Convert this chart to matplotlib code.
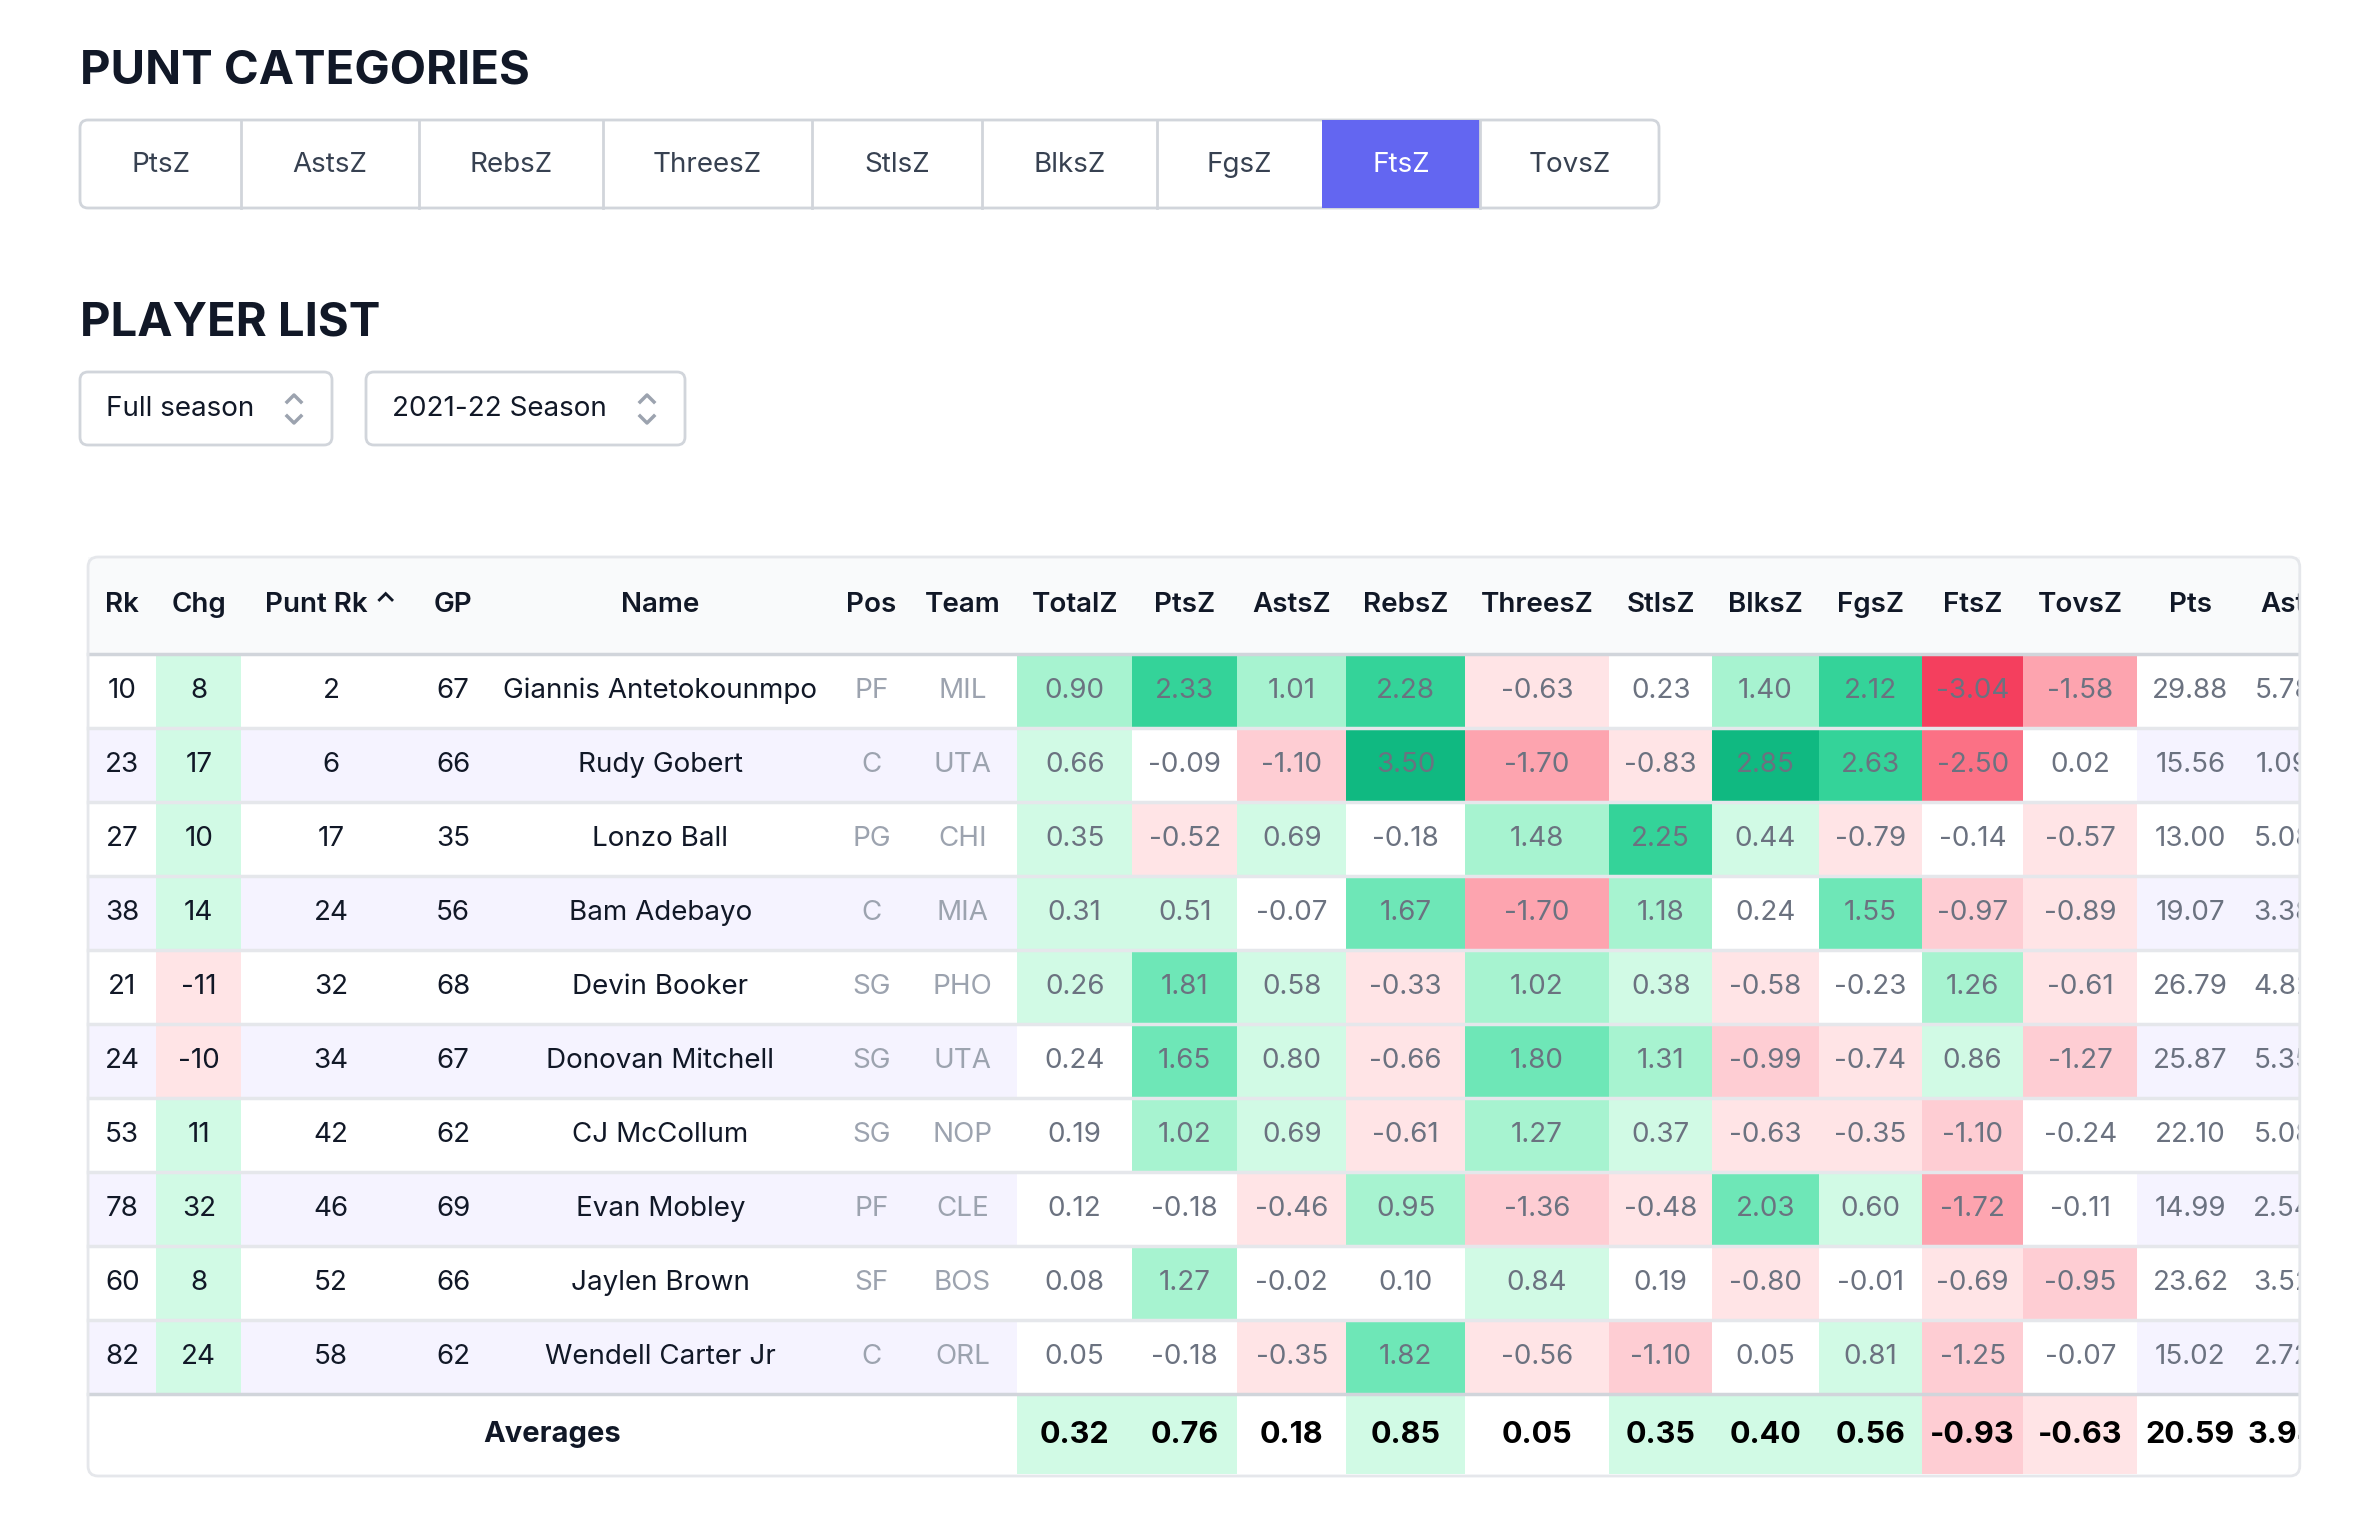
import matplotlib.pyplot as plt
from matplotlib.patches import Rectangle, FancyBboxPatch

plt.rcParams['font.family'] = ['Inter', 'DejaVu Sans']

punt_categories = ['PtsZ', 'AstsZ', 'RebsZ', 'ThreesZ', 'StlsZ', 'BlksZ', 'FgsZ', 'FtsZ', 'TovsZ']
selected_punt = 'FtsZ'
dropdowns = ['Full season', '2021-22 Season']

columns = ['Rk', 'Chg', 'Punt Rk \u2303', 'GP', 'Name', 'Pos', 'Team', 'TotalZ', 'PtsZ', 'AstsZ',
           'RebsZ', 'ThreesZ', 'StlsZ', 'BlksZ', 'FgsZ', 'FtsZ', 'TovsZ', 'Pts', 'Ast']
rk = [10, 23, 27, 38, 21, 24, 53, 78, 60, 82]
chg = [8, 17, 10, 14, -11, -10, 11, 32, 8, 24]
punt_rk = [2, 6, 17, 24, 32, 34, 42, 46, 52, 58]
gp = [67, 66, 35, 56, 68, 67, 62, 69, 66, 62]
names = ['Giannis Antetokounmpo', 'Rudy Gobert', 'Lonzo Ball', 'Bam Adebayo', 'Devin Booker',
         'Donovan Mitchell', 'CJ McCollum', 'Evan Mobley', 'Jaylen Brown', 'Wendell Carter Jr']
pos = ['PF', 'C', 'PG', 'C', 'SG', 'SG', 'SG', 'PF', 'SF', 'C']
team = ['MIL', 'UTA', 'CHI', 'MIA', 'PHO', 'UTA', 'NOP', 'CLE', 'BOS', 'ORL']
total_z = [0.90, 0.66, 0.35, 0.31, 0.26, 0.24, 0.19, 0.12, 0.08, 0.05]
pts_z = [2.33, -0.09, -0.52, 0.51, 1.81, 1.65, 1.02, -0.18, 1.27, -0.18]
asts_z = [1.01, -1.10, 0.69, -0.07, 0.58, 0.80, 0.69, -0.46, -0.02, -0.35]
rebs_z = [2.28, 3.50, -0.18, 1.67, -0.33, -0.66, -0.61, 0.95, 0.10, 1.82]
threes_z = [-0.63, -1.70, 1.48, -1.70, 1.02, 1.80, 1.27, -1.36, 0.84, -0.56]
stls_z = [0.23, -0.83, 2.25, 1.18, 0.38, 1.31, 0.37, -0.48, 0.19, -1.10]
blks_z = [1.40, 2.85, 0.44, 0.24, -0.58, -0.99, -0.63, 2.03, -0.80, 0.05]
fgs_z = [2.12, 2.63, -0.79, 1.55, -0.23, -0.74, -0.35, 0.60, -0.01, 0.81]
fts_z = [-3.04, -2.50, -0.14, -0.97, 1.26, 0.86, -1.10, -1.72, -0.69, -1.25]
tovs_z = [-1.58, 0.02, -0.57, -0.89, -0.61, -1.27, -0.24, -0.11, -0.95, -0.07]
pts = [29.88, 15.56, 13.00, 19.07, 26.79, 25.87, 22.10, 14.99, 23.62, 15.02]
ast = [5.78, 1.09, 5.08, 3.38, 4.82, 5.35, 5.08, 2.54, 3.52, 2.72]
averages = [0.32, 0.76, 0.18, 0.85, 0.05, 0.35, 0.40, 0.56, -0.93, -0.63, 20.59, 3.94]

z_cols = [total_z, pts_z, asts_z, rebs_z, threes_z, stls_z, blks_z, fgs_z, fts_z, tovs_z]

GREENS = ['#d1fae5', '#a7f3d0', '#6ee7b7', '#34d399', '#10b981']
REDS = ['#ffe4e6', '#fecdd3', '#fda4af', '#fb7185', '#f43f5e']
LEVELS = [0.25, 0.9, 1.5, 2.05, 2.75]


def z_color(v):
    idx = sum(abs(v) >= t for t in LEVELS) - 1
    if idx < 0:
        return None
    return GREENS[idx] if v > 0 else REDS[idx]


W, H = 2380, 1529
fig = plt.figure(figsize=(W / 100, H / 100), dpi=100)
ax = fig.add_axes([0, 0, 1, 1])
ax.set_xlim(0, W)
ax.set_ylim(H, 0)
ax.axis('off')

DARK = '#111827'
GRAY = '#6b7280'
LINE = '#e5e7eb'

# punt categories
ax.text(80, 72, 'PUNT CATEGORIES', fontsize=34, fontweight='bold', color=DARK, va='center')
btn_edges = [80, 241, 419, 603, 812, 982, 1157, 1322, 1480, 1659]
ax.add_patch(FancyBboxPatch((btn_edges[0], 120), btn_edges[-1] - btn_edges[0], 88,
                            boxstyle='round,pad=0,rounding_size=8', fc='white', ec='#d1d5db', lw=2))
for i, cat in enumerate(punt_categories):
    x0, x1 = btn_edges[i], btn_edges[i + 1]
    if cat == selected_punt:
        ax.add_patch(Rectangle((x0, 120), x1 - x0, 88, fc='#6366f1', ec='none'))
    elif i > 0:
        ax.plot([x0, x0], [120, 208], color='#d1d5db', lw=2)
    ax.text((x0 + x1) / 2, 165, cat, fontsize=20, ha='center', va='center',
            color='white' if cat == selected_punt else '#374151')

# player list
ax.text(80, 324, 'PLAYER LIST', fontsize=34, fontweight='bold', color=DARK, va='center')
for (x0, x1), label in zip([(80, 332), (366, 685)], dropdowns):
    ax.add_patch(FancyBboxPatch((x0, 372), x1 - x0, 73, boxstyle='round,pad=0,rounding_size=8',
                                fc='white', ec='#d1d5db', lw=2))
    ax.text(x0 + 26, 409, label, fontsize=20, va='center', color=DARK)
    ax.plot([x1 - 45, x1 - 38, x1 - 31], [402, 395, 402], color='#9ca3af', lw=2.5)
    ax.plot([x1 - 45, x1 - 38, x1 - 31], [416, 423, 416], color='#9ca3af', lw=2.5)

# table
s = 1.518
edges = [e * s for e in [58, 103, 159, 277, 320, 550, 598, 670, 746, 815, 887, 965, 1060,
                         1128, 1198, 1266, 1333, 1408, 1478, 1530]]
clip_x = 1515 * s
top, head_h, row_h = 557, 97, 74.0
n = len(names)
body_top = top + head_h
avg_top = body_top + n * row_h
bottom = avg_top + 82

ax.add_patch(Rectangle((edges[0], top), clip_x - edges[0], head_h, fc='#f9fafb', ec='none'))


def cell_text(ci, y, txt, color, weight='normal', size=20):
    ax.text((edges[ci] + edges[ci + 1]) / 2, y, txt, fontsize=size, ha='center', va='center',
            color=color, fontweight=weight)


for ci, col in enumerate(columns):
    cell_text(ci, top + head_h / 2, col, DARK, 'semibold')

for r in range(n):
    y0 = body_top + r * row_h
    yc = y0 + row_h / 2
    if r % 2 == 1:
        ax.add_patch(Rectangle((edges[0], y0), clip_x - edges[0], row_h, fc='#f5f3ff', ec='none'))
    ax.add_patch(Rectangle((edges[1], y0), edges[2] - edges[1], row_h, ec='none',
                           fc=GREENS[0] if chg[r] > 0 else REDS[0]))
    for k, col in enumerate(z_cols):
        c = z_color(col[r])
        if c is None and r % 2 == 1:
            c = 'white'
        if c:
            ax.add_patch(Rectangle((edges[7 + k], y0), edges[8 + k] - edges[7 + k], row_h, fc=c, ec='none'))
    vals = [rk[r], chg[r], punt_rk[r], gp[r], names[r]]
    for ci, v in enumerate(vals):
        cell_text(ci, yc, str(v), DARK)
    cell_text(5, yc, pos[r], '#9ca3af')
    cell_text(6, yc, team[r], '#9ca3af')
    for k, col in enumerate(z_cols):
        cell_text(7 + k, yc, f'{col[r]:.2f}', GRAY)
    cell_text(17, yc, f'{pts[r]:.2f}', GRAY)
    cell_text(18, yc, f'{ast[r]:.2f}', GRAY)
    ax.plot([edges[0], clip_x], [y0, y0], color=LINE if r else '#d1d5db', lw=2.5)

ax.plot([edges[0], clip_x], [avg_top, avg_top], color='#d1d5db', lw=2.5)
yc = avg_top + (bottom - avg_top) / 2
for k, v in enumerate(averages[:10]):
    c = z_color(v)
    if c:
        ax.add_patch(Rectangle((edges[7 + k], avg_top), edges[8 + k] - edges[7 + k], bottom - avg_top - 2,
                               fc=c, ec='none'))
ax.text((edges[0] + edges[7]) / 2, yc, 'Averages', fontsize=21, fontweight='bold', ha='center',
        va='center', color=DARK)
for k, v in enumerate(averages):
    cell_text(7 + k, yc, f'{v:.2f}', 'black', 'bold', 22)

# cut the table off at its right edge, as the page scrolls horizontally
ax.add_patch(Rectangle((clip_x, top - 10), W - clip_x, bottom - top + 20, fc='white', ec='none', zorder=5))
ax.add_patch(FancyBboxPatch((edges[0], top), clip_x - edges[0], bottom - top,
                            boxstyle='round,pad=0,rounding_size=10', fc='none', ec='#e5e7eb', lw=2, zorder=6))

fig.savefig('out.png', dpi=100, facecolor='white')
